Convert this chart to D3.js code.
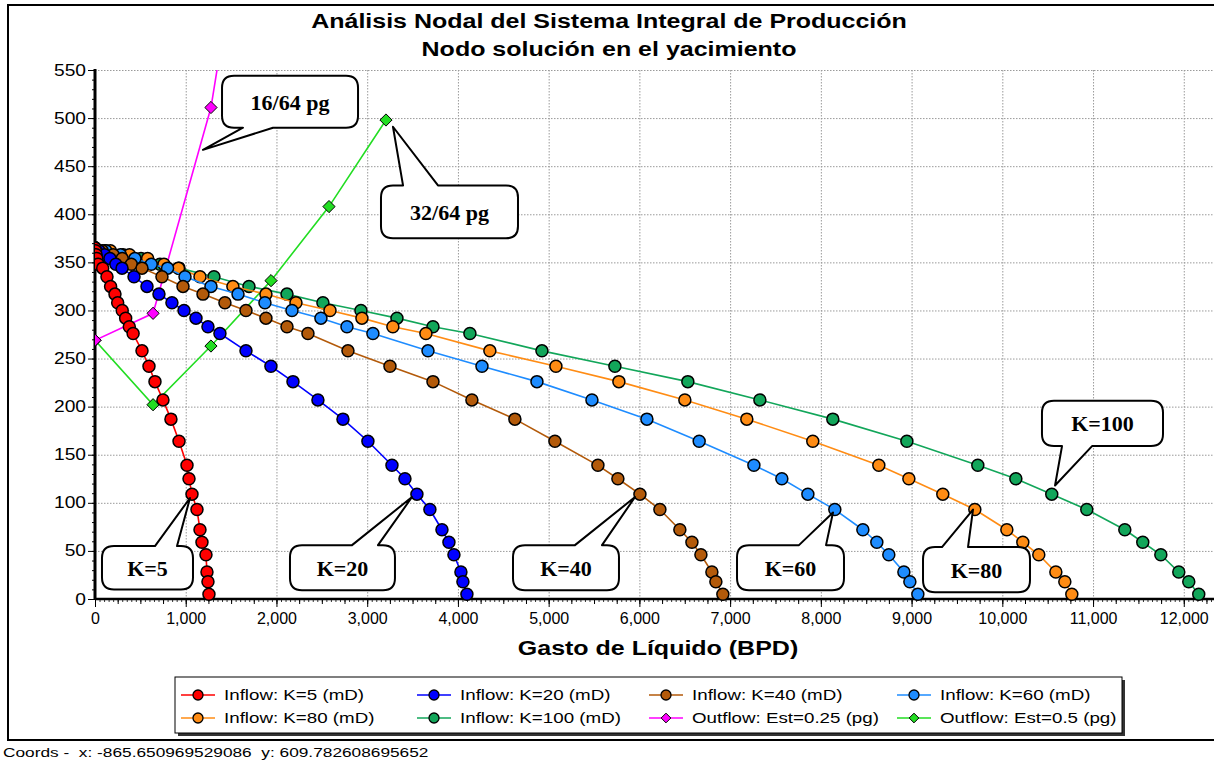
<!DOCTYPE html>
<html><head><meta charset="utf-8">
<script src="https://cdn.jsdelivr.net/npm/d3@7"></script>
<style>body{margin:0;background:#fff;overflow:hidden} svg{display:block}</style>
</head><body>
<svg id="c" width="1214" height="762"></svg>
<script>
// ---- data ----
const pressure = [365,362,358,354,348,344,335,325,317,308,300,292,283,276,258,242,226,207,187,164,139,125,109,93,72,59,46,28,18,5];
const qK5   = [0,5,12,20,35,85,132,172,220,250,300,338,378,420,518,595,661,749,837,926,1014,1036,1069,1124,1157,1179,1223,1234,1245,1256];
const qK20  = [0,45,105,165,230,298,430,573,705,848,981,1113,1245,1377,1664,1939,2182,2457,2733,3008,3273,3416,3548,3691,3824,3901,3956,4033,4055,4099];
const qK40  = [0,80,200,300,400,518,738,970,1190,1432,1664,1884,2116,2347,2788,3251,3725,4154,4628,5069,5543,5763,6006,6226,6446,6579,6678,6799,6843,6920];
const qK60  = [0,120,280,440,620,800,992,1278,1576,1873,2171,2490,2777,3063,3670,4265,4871,5477,6083,6659,7262,7570,7857,8154,8463,8617,8749,8915,8981,9069];
const qK80  = [0,170,380,580,760,920,1157,1520,1884,2215,2590,2942,3283,3647,4352,5080,5774,6501,7184,7911,8639,8970,9344,9697,10050,10226,10402,10590,10689,10766];
const qK100 = [0,110,309,507,716,926,1311,1697,2116,2512,2931,3328,3725,4132,4926,5730,6534,7328,8132,8948,9730,10149,10545,10931,11350,11548,11747,11945,12055,12165];
const qOut025 = [0,640,1278,1920];
const pOut025 = [269,297,511,886];
const qOut05 = [0,640,1278,1940,2579,3207];
const pOut05 = [269,202,263,331,408,498];
const seriesNames = ["Inflow: K=5 (mD)","Inflow: K=20 (mD)","Inflow: K=40 (mD)","Inflow: K=60 (mD)",
                     "Inflow: K=80 (mD)","Inflow: K=100 (mD)","Outflow: Est=0.25 (pg)","Outflow: Est=0.5 (pg)"];
const xTicks = [0,1000,2000,3000,4000,5000,6000,7000,8000,9000,10000,11000,12000];
const yTicks = [0,50,100,150,200,250,300,350,400,450,500,550];
const titleLines = ["Análisis Nodal del Sistema Integral de Producción","Nodo solución en el yacimiento"];
const xTitle = "Gasto de Líquido (BPD)";
const coordsText = "Coords -  x: -865.650969529086  y: 609.782608695652";
const calloutTexts = ["16/64 pg","32/64 pg","K=5","K=20","K=40","K=60","K=80","K=100"];

// ---- styles / layout ----
const colors = ["#ff0000","#0000ff","#b35a0a","#1e8cff","#ff8c14","#12a65a","#ff00ff","#22dd22"];
const lineColors = ["#ff0000","#0000ff","#b35a0a","#1e8cff","#ff8c14","#12a65a","#ff00ff","#22dd22"];
const series = [
  {q:qK5,p:pressure,type:"circle"},{q:qK20,p:pressure,type:"circle"},{q:qK40,p:pressure,type:"circle"},
  {q:qK60,p:pressure,type:"circle"},{q:qK80,p:pressure,type:"circle"},{q:qK100,p:pressure,type:"circle"},
  {q:qOut025,p:pOut025,type:"diamond"},{q:qOut05,p:pOut05,type:"diamond"}
].map((s,i)=>({...s,name:seriesNames[i],color:colors[i],lc:lineColors[i]}));

const svg = d3.select("#c");
const L=95, R=1211, T=70, B=599;
const x = d3.scaleLinear().domain([0,12300]).range([L,R]);
const y = d3.scaleLinear().domain([0,550]).range([B,T]);
const font = "'Liberation Sans', Arial, sans-serif";

// outer frame
svg.append("rect").attr("x",8).attr("y",5).attr("width",1230).attr("height",735)
  .attr("fill","none").attr("stroke","#000").attr("stroke-width",2);

// title
svg.append("g").selectAll("g").data(titleLines).join("g")
  .attr("transform",(d,i)=>`translate(609,${28+i*28}) scale(1.25,1)`)
  .append("text").attr("text-anchor","middle")
  .attr("font-family",font).attr("font-weight","bold").attr("font-size",20).text(d=>d);

// gridlines
const grid = svg.append("g").attr("stroke","#9a9a9a").attr("stroke-width",1).attr("stroke-dasharray","1.5,1.5");
grid.selectAll("line.v").data(xTicks.filter(d=>d>0)).join("line")
  .attr("x1",d=>x(d)+0.5).attr("x2",d=>x(d)+0.5).attr("y1",T).attr("y2",B);
grid.selectAll("line.h").data(yTicks.filter(d=>d>0)).join("line")
  .attr("x1",L).attr("x2",R+3).attr("y1",d=>y(d)+0.5).attr("y2",d=>y(d)+0.5);

// clip
svg.append("clipPath").attr("id","clip").append("rect").attr("x",L).attr("y",T).attr("width",R-L+3).attr("height",B-T+8);

// y axis
const yAxis = d3.axisLeft(y).tickValues(yTicks).tickSize(7).tickFormat("");
const gy = svg.append("g").attr("transform",`translate(${L},0)`).call(yAxis);
gy.select(".domain").remove();
gy.selectAll("line").attr("stroke","#000");
const yMinor = d3.axisLeft(y).tickValues(d3.range(0,551,10)).tickSize(3).tickFormat("");
const gym = svg.append("g").attr("transform",`translate(${L},0)`).call(yMinor);
gym.select(".domain").remove();
gym.selectAll("line").attr("stroke","#000");
svg.append("g").selectAll("g").data(yTicks).join("g")
  .attr("transform",d=>`translate(86,${y(d)+5.5}) scale(1.2,1)`)
  .append("text").attr("text-anchor","end").attr("font-family",font).attr("font-size",16).text(d=>d);

// x axis
const xTiny = d3.axisBottom(x).tickValues(d3.range(0,12301,50)).tickSize(3).tickFormat("");
const gxt = svg.append("g").attr("transform",`translate(0,${B})`).call(xTiny);
gxt.select(".domain").remove(); gxt.selectAll("line").attr("stroke","#000").attr("stroke-width",0.8);
const xMid = d3.axisBottom(x).tickValues(d3.range(0,12301,250)).tickSize(5).tickFormat("");
const gxm = svg.append("g").attr("transform",`translate(0,${B})`).call(xMid);
gxm.select(".domain").remove(); gxm.selectAll("line").attr("stroke","#000");
const xAxis = d3.axisBottom(x).tickValues(xTicks).tickSize(8).tickPadding(6).tickFormat(d3.format(","));
const gx = svg.append("g").attr("transform",`translate(0,${B})`).call(xAxis);
gx.select(".domain").remove();
gx.selectAll("line").attr("stroke","#000");
gx.selectAll("text").attr("font-family",font).attr("font-size",16).attr("fill","#000");

svg.append("line").attr("x1",L).attr("x2",R+3).attr("y1",B).attr("y2",B).attr("stroke","#000").attr("stroke-width",2.5);
svg.append("line").attr("x1",L).attr("x2",L).attr("y1",T-1).attr("y2",B+1).attr("stroke","#000").attr("stroke-width",3);

svg.append("g").attr("transform","translate(658,655) scale(1.25,1)")
  .append("text").attr("text-anchor","middle")
  .attr("font-family",font).attr("font-weight","bold").attr("font-size",20).text(xTitle);

// series (draw in reverse order so K=5 is on top)
const plot = svg.append("g").attr("clip-path","url(#clip)");
const line = d3.line().x(d=>x(d[0])).y(d=>y(d[1]));
const diamond = d3.symbol().type(d3.symbolDiamond2).size(95);
series.slice().reverse().forEach(s=>{
  const pts = s.q.map((q,i)=>[q,s.p[i]]);
  const g = plot.append("g");
  g.append("path").datum(pts).attr("d",line).attr("fill","none").attr("stroke",s.lc).attr("stroke-width",1.6);
  if(s.type==="circle"){
    g.selectAll("circle").data(pts).join("circle").attr("cx",d=>x(d[0])).attr("cy",d=>y(d[1])).attr("r",6)
      .attr("fill",s.color).attr("stroke","#000").attr("stroke-width",1.5);
  } else {
    g.selectAll("path.m").data(pts).join("path").attr("class","m")
      .attr("transform",d=>`translate(${x(d[0])},${y(d[1])})`).attr("d",diamond)
      .attr("fill",s.color).attr("stroke","#000").attr("stroke-width",1);
  }
});

// callouts (positions in data coordinates)
const callouts = [
  {bx:[1400,2899],by:[544,490],side:"bottom",base:[1631,1962],tip:[1190,467]},
  {bx:[3152,4662],by:[430,375],side:"top",base:[3395,3780],tip:[3284,491]},
  {bx:[77,1080],by:[55,10],side:"top",base:[661,904],tip:[1047,105]},
  {bx:[2149,3306],by:[56,9],side:"top",base:[2833,3119],tip:[3494,106]},
  {bx:[4607,5775],by:[56,9],side:"top",base:[5290,5588],tip:[5952,106]},
  {bx:[7076,8255],by:[56,9],side:"top",base:[7759,8057],tip:[8134,90]},
  {bx:[9126,10305],by:[54,7],side:"top",base:[9335,9622],tip:[9677,93]},
  {bx:[10437,11771],by:[206,159],side:"bottom",base:[10658,10989],tip:[10581,118]}
].map((c,i)=>({...c,text:calloutTexts[i]}));
function calloutPath(c){
  const x0=x(c.bx[0]),x1=x(c.bx[1]),y0=y(c.by[0]),y1=y(c.by[1]),r=12;
  const b1=x(c.base[0]),b2=x(c.base[1]),tx=x(c.tip[0]),ty=y(c.tip[1]);
  let p=`M${x0+r},${y0}`;
  if(c.side==="top") p+=`H${b1}L${tx},${ty}L${b2},${y0}`;
  p+=`H${x1-r}Q${x1},${y0} ${x1},${y0+r}V${y1-r}Q${x1},${y1} ${x1-r},${y1}`;
  if(c.side==="bottom") p+=`H${b2}L${tx},${ty}L${b1},${y1}`;
  p+=`H${x0+r}Q${x0},${y1} ${x0},${y1-r}V${y0+r}Q${x0},${y0} ${x0+r},${y0}Z`;
  return p;
}
const cg = svg.append("g").selectAll("g").data(callouts).join("g");
cg.append("path").attr("d",calloutPath).attr("fill","#fff").attr("stroke","#000").attr("stroke-width",2).attr("stroke-linejoin","round");
cg.append("text").attr("x",c=>(x(c.bx[0])+x(c.bx[1]))/2).attr("y",c=>(y(c.by[0])+y(c.by[1]))/2+8)
  .attr("text-anchor","middle").attr("font-family","'Liberation Serif','Times New Roman',serif")
  .attr("font-weight","bold").attr("font-size",22).text(c=>c.text);

// legend
const lg = svg.append("g");
lg.append("rect").attr("x",178).attr("y",680).attr("width",947).attr("height",56).attr("fill","#333");
lg.append("rect").attr("x",175).attr("y",677).attr("width",947).attr("height",56).attr("fill","#fff").attr("stroke","#000").attr("stroke-width",1);
const colX = [181,417,649,897], rowY=[695,718];
series.forEach((s,i)=>{
  const cx = colX[i%4], cy = rowY[Math.floor(i/4)];
  const g = lg.append("g").attr("transform",`translate(${cx},${cy})`);
  g.append("line").attr("x1",0).attr("x2",34).attr("stroke",s.lc).attr("stroke-width",1.6);
  if(s.type==="circle") g.append("circle").attr("cx",17).attr("r",5).attr("fill",s.color).attr("stroke","#000").attr("stroke-width",1.3);
  else g.append("path").attr("transform","translate(17,0)").attr("d",d3.symbol().type(d3.symbolDiamond2).size(60)).attr("fill",s.color).attr("stroke","#000");
  g.append("g").attr("transform","translate(43,5) scale(1.25,1)")
    .append("text").attr("font-family",font).attr("font-size",15).text(s.name);
});

svg.append("g").attr("transform","translate(3,757) scale(1.33,1)")
  .append("text").attr("font-family",font).attr("font-size",13)
  .style("white-space","pre").text(coordsText);
</script>
</body></html>
